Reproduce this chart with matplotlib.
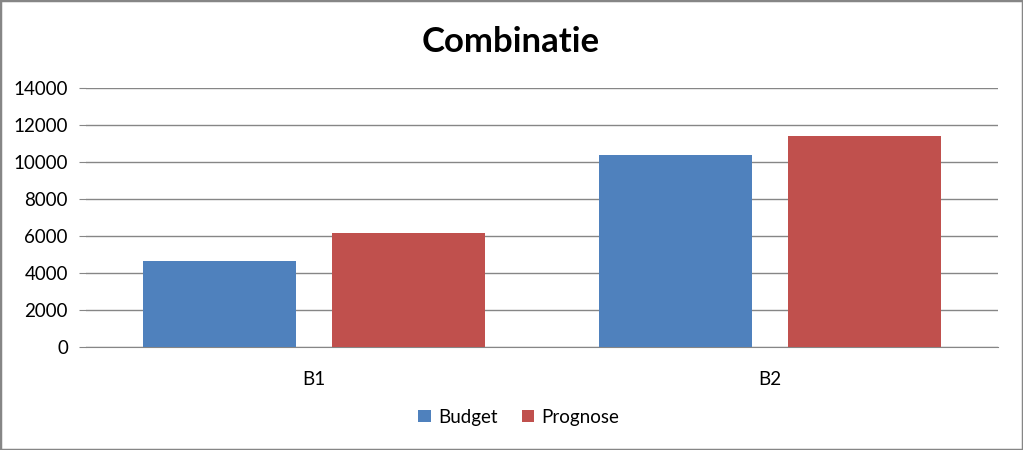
import matplotlib

matplotlib.use("Agg")
import matplotlib.pyplot as plt
import numpy as np
from matplotlib.patches import Rectangle

categories = ["B1", "B2"]
budget = [4650, 10400]
prognose = [6150, 11420]
series_names = ["Budget", "Prognose"]
y_ticks = [0, 2000, 4000, 6000, 8000, 10000, 12000, 14000]

plt.rcParams["font.family"] = ["Lato", "DejaVu Sans"]

fig = plt.figure(figsize=(10.23, 4.5), dpi=100)
ax = fig.add_axes([86 / 1023, (450 - 347) / 450, 912 / 1023, 259 / 450])

blue = "#4F81BD"
red = "#C0504D"
text_color = "#000000"

x = np.arange(len(categories))
width = 0.335
offset = 0.208
bars_b = ax.bar(x - offset, budget, width=width, color=blue, label=series_names[0], zorder=3)
bars_p = ax.bar(x + offset, prognose, width=width, color=red, label=series_names[1], zorder=3)

ax.set_xlim(-0.5, len(categories) - 0.5)
ax.set_ylim(0, 14000)
ax.set_yticks(y_ticks)
ax.set_yticklabels([str(v) for v in y_ticks], fontsize=13.5)
ax.set_xticks(x)
ax.set_xticklabels(categories, fontsize=13.5)
ax.tick_params(axis="x", length=0, pad=17)
ax.tick_params(axis="y", length=5, color="#868686", pad=8)
ax.grid(axis="y", color="#868686", linewidth=1.0, zorder=0)
ax.set_axisbelow(True)

for spine in ("top", "right"):
    ax.spines[spine].set_visible(False)
ax.spines["left"].set_visible(False)
ax.spines["bottom"].set_color("#868686")

fig.text(511 / 1023, 1 - 42 / 450, "Combinatie", ha="center", va="center",
         fontsize=25, fontweight="bold", color=text_color)

fig.legend(handles=[bars_b, bars_p], labels=series_names, loc="center",
           bbox_to_anchor=(519 / 1023, 1 - 417 / 450), ncol=2, frameon=False,
           fontsize=13.5, handlelength=0.65, handleheight=0.65, handletextpad=0.4,
           columnspacing=1.3)

fig.patches.append(Rectangle((0, 0), 1, 1, transform=fig.transFigure, fill=False,
                             edgecolor="#868686", linewidth=2.5))

fig.savefig("out.png", dpi=100, facecolor="white")
